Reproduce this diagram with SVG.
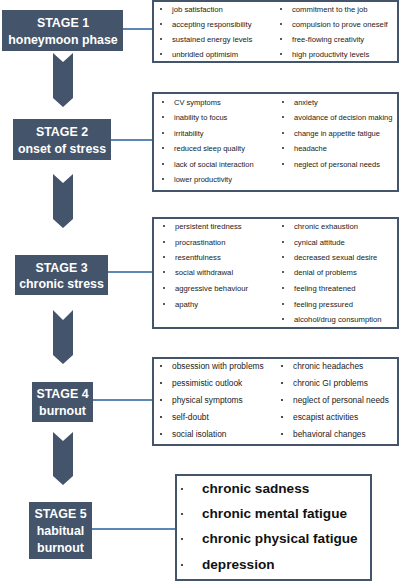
<svg xmlns="http://www.w3.org/2000/svg" width="400" height="582" viewBox="0 0 400 582">
<style>
.stage{fill:#44546a}
.stxt{fill:#ffffff;font-family:"Liberation Sans",Arial,sans-serif;font-weight:bold;font-size:12.4px;text-anchor:middle}
.arrow{fill:#44546a}
.sbox{fill:#ffffff;stroke:#44546a;stroke-width:2}
.conn{stroke:#5b87b5;stroke-width:2;fill:none}
.t{font-family:"Liberation Sans",Arial,sans-serif;font-size:7.7px;fill:#222222}
.t2{font-family:"Liberation Sans",Arial,sans-serif;font-size:7.5px;fill:#222222}
.t4{font-family:"Liberation Sans",Arial,sans-serif;font-size:8.4px;fill:#222222}
.t5{font-family:"Liberation Sans",Arial,sans-serif;font-size:13.6px;font-weight:bold;fill:#111111}
.b{fill:#222222}
</style>
<rect width="400" height="582" fill="#ffffff"/>
<g id="connectors">
<line class="conn" x1="123" y1="29" x2="153" y2="29"/>
<line class="conn" x1="111" y1="140" x2="153" y2="140"/>
<line class="conn" x1="108" y1="272" x2="153" y2="272"/>
<line class="conn" x1="93" y1="400" x2="153" y2="400"/>
<line class="conn" x1="92" y1="529" x2="176" y2="529"/>
<polygon class="arrow" points="53,53 63,62 73,53 73,98 63,107 53,98"/>
<polygon class="arrow" points="53,174 63,183 73,174 73,219 63,228 53,219"/>
<polygon class="arrow" points="53,310 63,320 73,310 73,355 63,364 53,355"/>
<polygon class="arrow" points="53,432 63,441 73,432 73,476 63,485 53,476"/>
</g>
<g id="stage1">
<rect class="stage" x="2" y="10" width="121" height="41"/>
<text class="stxt" x="63" y="27">STAGE 1</text>
<text class="stxt" x="63" y="44">honeymoon phase</text>
</g>
<g id="stage2">
<rect class="stage" x="13" y="119" width="98" height="41"/>
<text class="stxt" x="62" y="136">STAGE 2</text>
<text class="stxt" x="62" y="153">onset of stress</text>
</g>
<g id="stage3">
<rect class="stage" x="15" y="255" width="93" height="40"/>
<text class="stxt" x="61.5" y="272">STAGE 3</text>
<text class="stxt" x="61.5" y="288">chronic stress</text>
</g>
<g id="stage4">
<rect class="stage" x="32" y="382" width="61" height="40"/>
<text class="stxt" x="62.5" y="398">STAGE 4</text>
<text class="stxt" x="62.5" y="415">burnout</text>
</g>
<g id="stage5">
<rect class="stage" x="29" y="502" width="63" height="57"/>
<text class="stxt" x="60.5" y="518">STAGE 5</text>
<text class="stxt" x="60.5" y="535">habitual</text>
<text class="stxt" x="60.5" y="552">burnout</text>
</g>
<g id="symptoms1">
<rect class="sbox" x="153" y="1" width="245" height="61"/>
<g class="b"><circle cx="161" cy="9" r="1"/><circle cx="161" cy="24" r="1"/><circle cx="161" cy="39" r="1"/><circle cx="161" cy="54" r="1"/>
<circle cx="281" cy="9" r="1"/><circle cx="281" cy="24" r="1"/><circle cx="281" cy="39" r="1"/><circle cx="281" cy="54" r="1"/></g>
<text class="t" x="172" y="12">job satisfaction</text>
<text class="t" x="172" y="27">accepting responsibility</text>
<text class="t" x="172" y="42">sustained energy levels</text>
<text class="t" x="172" y="57">unbridled optimisim</text>
<text class="t" x="292" y="12">commitment to the job</text>
<text class="t" x="292" y="27">compulsion to prove oneself</text>
<text class="t" x="292" y="42">free-flowing creativity</text>
<text class="t" x="292" y="57">high productivity levels</text>
</g>
<g id="symptoms2">
<rect class="sbox" x="153" y="93" width="245" height="98"/>
<g class="b"><circle cx="163" cy="102" r="1"/><circle cx="163" cy="117" r="1"/><circle cx="163" cy="133" r="1"/><circle cx="163" cy="148" r="1"/><circle cx="163" cy="164" r="1"/><circle cx="163" cy="179" r="1"/>
<circle cx="283" cy="102" r="1"/><circle cx="283" cy="117" r="1"/><circle cx="283" cy="133" r="1"/><circle cx="283" cy="148" r="1"/><circle cx="283" cy="164" r="1"/></g>
<text class="t2" x="174" y="105">CV symptoms</text>
<text class="t2" x="174" y="120">inability to focus</text>
<text class="t2" x="174" y="136">irritability</text>
<text class="t2" x="174" y="151">reduced sleep quality</text>
<text class="t2" x="174" y="167">lack of social interaction</text>
<text class="t2" x="174" y="182">lower productivity</text>
<text class="t2" x="294" y="105">anxiety</text>
<text class="t2" x="294" y="120">avoidance of decision making</text>
<text class="t2" x="294" y="136">change in appetite fatigue</text>
<text class="t2" x="294" y="151">headache</text>
<text class="t2" x="294" y="167">neglect of personal needs</text>
</g>
<g id="symptoms3">
<rect class="sbox" x="153" y="218" width="245" height="110"/>
<g class="b"><circle cx="164" cy="226" r="1"/><circle cx="164" cy="242" r="1"/><circle cx="164" cy="257" r="1"/><circle cx="164" cy="272" r="1"/><circle cx="164" cy="288" r="1"/><circle cx="164" cy="304" r="1"/>
<circle cx="283" cy="226" r="1"/><circle cx="283" cy="242" r="1"/><circle cx="283" cy="257" r="1"/><circle cx="283" cy="272" r="1"/><circle cx="283" cy="288" r="1"/><circle cx="283" cy="304" r="1"/><circle cx="283" cy="319" r="1"/></g>
<text class="t" x="175" y="229">persistent tiredness</text>
<text class="t" x="175" y="245">procrastination</text>
<text class="t" x="175" y="260">resentfulness</text>
<text class="t" x="175" y="275">social withdrawal</text>
<text class="t" x="175" y="291">aggressive behaviour</text>
<text class="t" x="175" y="307">apathy</text>
<text class="t" x="294" y="229">chronic exhaustion</text>
<text class="t" x="294" y="245">cynical attitude</text>
<text class="t" x="294" y="260">decreased sexual desire</text>
<text class="t" x="294" y="275">denial of problems</text>
<text class="t" x="294" y="291">feeling threatened</text>
<text class="t" x="294" y="307">feeling pressured</text>
<text class="t" x="294" y="322">alcohol/drug consumption</text>
</g>
<g id="symptoms4">
<rect class="sbox" x="153" y="358" width="245" height="87"/>
<g class="b"><circle cx="161" cy="366" r="1.1"/><circle cx="161" cy="383" r="1.1"/><circle cx="161" cy="400" r="1.1"/><circle cx="161" cy="417" r="1.1"/><circle cx="161" cy="434" r="1.1"/>
<circle cx="282" cy="366" r="1.1"/><circle cx="282" cy="383" r="1.1"/><circle cx="282" cy="400" r="1.1"/><circle cx="282" cy="417" r="1.1"/><circle cx="282" cy="434" r="1.1"/></g>
<text class="t4" x="172" y="369">obsession with problems</text>
<text class="t4" x="172" y="386">pessimistic outlook</text>
<text class="t4" x="172" y="403">physical symptoms</text>
<text class="t4" x="172" y="420">self-doubt</text>
<text class="t4" x="172" y="437">social isolation</text>
<text class="t4" x="293" y="369">chronic headaches</text>
<text class="t4" x="293" y="386">chronic GI problems</text>
<text class="t4" x="293" y="403">neglect of personal needs</text>
<text class="t4" x="293" y="420">escapist activities</text>
<text class="t4" x="293" y="437">behavioral changes</text>
</g>
<g id="symptoms5">
<rect class="sbox" x="176" y="475" width="195" height="105"/>
<g class="b"><circle cx="182" cy="489" r="1.1"/><circle cx="182" cy="514" r="1.1"/><circle cx="182" cy="539" r="1.1"/><circle cx="182" cy="565" r="1.1"/></g>
<text class="t5" x="202" y="493">chronic sadness</text>
<text class="t5" x="202" y="518">chronic mental fatigue</text>
<text class="t5" x="202" y="543">chronic physical fatigue</text>
<text class="t5" x="202" y="569">depression</text>
</g>
</svg>
